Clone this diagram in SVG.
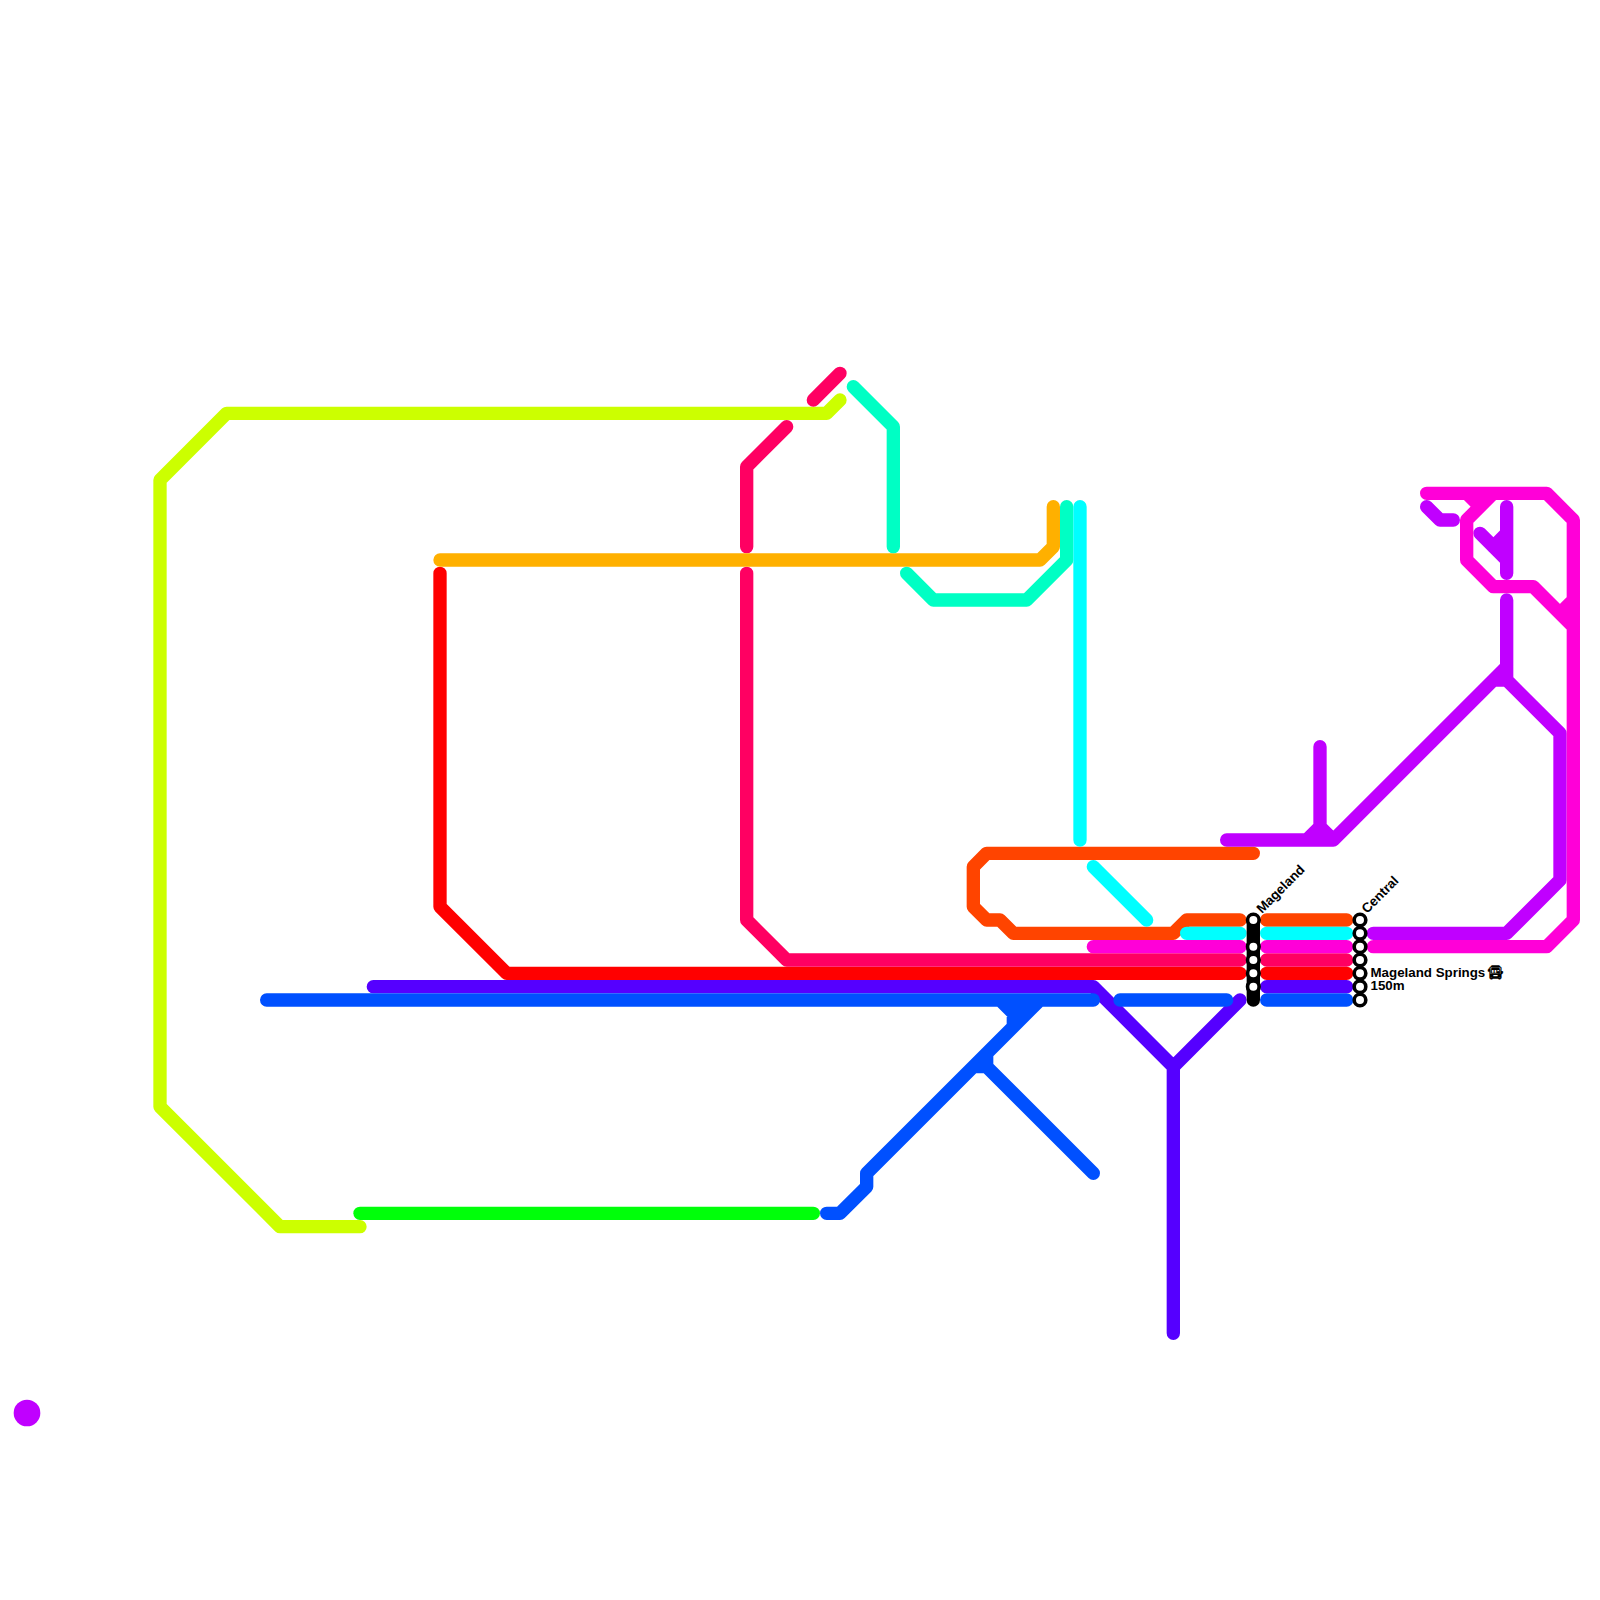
<svg xmlns="http://www.w3.org/2000/svg" width="1600" height="1600" viewBox="0 0 1600 1600">
<style>
.l{fill:none;stroke-width:13.33;stroke-linecap:round;stroke-linejoin:round}
.s{fill:#fff;stroke:#000;stroke-width:3.6}
.t{font-family:"Liberation Sans",Arial,sans-serif;font-weight:bold;font-size:13.33px;fill:#000}
</style>
<rect width="1600" height="1600" fill="#fff"/>
<g id="connectors">
<path class="l" stroke="#ccff00" d="M840 400L826.67 413.33H226.67L160 480V1106.67L280 1226.67H360"/>
<path class="l" stroke="#00ff0a" d="M360 1213.33H813.33"/>
<path class="l" stroke="#ff0000" d="M440 573.33V906.67L506.67 973.33H1240M1266.67 973.33H1346.67"/>
<path class="l" stroke="#ff0062" d="M840 373.33L813.33 400M786.67 426.67L746.67 466.67V546.67M746.67 573.33V920L786.67 960H1240M1266.67 960H1346.67"/>
<path class="l" stroke="#ffb000" d="M440 560H1040L1053.33 546.67V506.67"/>
<path class="l" stroke="#00ffc4" d="M853.33 386.67L893.33 426.67V546.67M906.67 573.33L933.33 600H1026.67L1066.67 560V506.67"/>
<path class="l" stroke="#ff4400" d="M1253.33 853.33H986.67L973.33 866.67V906.67L986.67 920H1000L1013.33 933.33H1173.33L1186.67 920H1240M1266.67 920H1346.67"/>
<path class="l" stroke="#00ffff" d="M1080 506.67V840M1093.33 866.67L1146.67 920M1186.67 933.33H1240M1266.67 933.33H1346.67"/>
<path class="l" stroke="#5500ff" d="M373.33 986.67H1093.33L1173.33 1066.67L1240 1000M1173.33 1066.67V1333.33M1266.67 986.67H1346.67"/>
<path class="l" stroke="#0050ff" d="M266.67 1000H1093.33M1120 1000H1226.67M1266.67 1000H1346.67M826.67 1213.33H840L866.67 1186.67V1173.33L1040 1000M1000 1000L1013.33 1013.33V1026.67M1013.33 1013.33L1026.67 1000V1013.33M1013.33 1000V1013.33M973.33 1066.67H986.67V1053.33M986.67 1066.67L1093.33 1173.33"/>
<path class="l" stroke="#c000ff" d="M1226.67 840H1333.33L1506.67 666.67M1320 746.67V826.67M1306.67 840L1320 826.67L1333.33 840M1506.67 600V680M1493.33 680H1506.67L1560 733.33V880L1506.67 933.33H1373.33M1426.67 506.67L1440 520H1453.33M1506.67 506.67V573.33M1480 533.33L1506.67 560M1493.33 546.67L1506.67 533.33"/>
<path class="l" stroke="#ff00d8" d="M1426.67 493.33H1546.67L1573.33 520V920L1546.67 946.67H1373.33M1493.33 493.33L1466.67 520V560L1493.33 586.67H1533.33L1573.33 626.67M1466.67 493.33L1480 506.67M1560 613.33L1573.33 600M1093.33 946.67H1240M1266.67 946.67H1346.67"/>
</g>
<g id="station-mageland">
<path d="M1253.33 920V1000" stroke="#000" stroke-width="13.33" stroke-linecap="round"/>
<circle class="s" cx="1253.33" cy="920" r="5.8"/>
<circle class="s" cx="1253.33" cy="946.67" r="5.8"/>
<circle class="s" cx="1253.33" cy="960" r="5.8"/>
<circle class="s" cx="1253.33" cy="973.33" r="5.8"/>
<circle class="s" cx="1253.33" cy="986.67" r="5.8"/>
<text class="t" transform="translate(1262 914) rotate(-45)">Mageland</text>
</g>
<g id="station-central">
<circle class="s" cx="1360" cy="920" r="5.8"/>
<circle class="s" cx="1360" cy="933.33" r="5.8"/>
<circle class="s" cx="1360" cy="946.67" r="5.8"/>
<circle class="s" cx="1360" cy="960" r="5.8"/>
<circle class="s" cx="1360" cy="973.33" r="5.8"/>
<circle class="s" cx="1360" cy="986.67" r="5.8"/>
<circle class="s" cx="1360" cy="1000" r="5.8"/>
<text class="t" transform="translate(1367 914) rotate(-45)">Central</text>
<text class="t" x="1370.5" y="977">Mageland Springs <tspan dx="-2">🚍︎</tspan></text>
<text class="t" x="1370.5" y="990">150m</text>
</g>
<g id="legend-dot"><circle cx="27" cy="1413" r="13.33" fill="#c000ff"/></g>
</svg>
